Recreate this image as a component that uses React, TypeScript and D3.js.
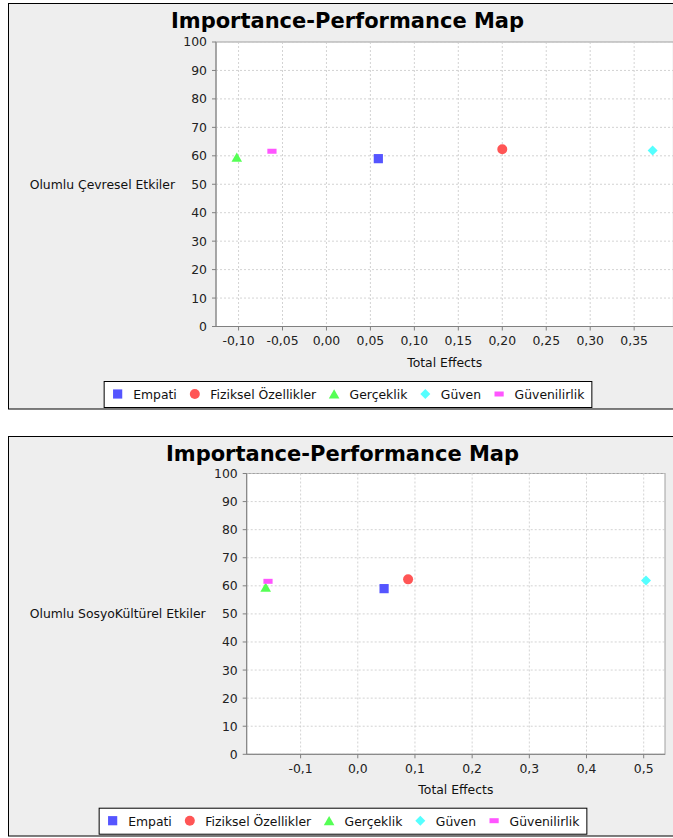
import React, { useRef, useEffect } from "react";
import * as d3 from "d3";

// constructs shown in both maps
const constructs = ["Empati", "Fiziksel Özellikler", "Gerçeklik", "Güven", "Güvenilirlik"];
const colors = ["#5555ff", "#ff5555", "#55ff55", "#55ffff", "#ff55ff"];
const shapes = ["square", "circle", "triangle", "diamond", "bar"];

// performance (y) and total effects (x)
const performance = [59.0, 62.3, 59.5, 61.9, 61.6];
const effectsCevresel = [0.059, 0.2, -0.102, 0.371, -0.062];
const effectsSosyo = [0.046, 0.088, -0.161, 0.504, -0.157];

const yTicks = [0, 10, 20, 30, 40, 50, 60, 70, 80, 90, 100];
const xTicksCevresel = [-0.1, -0.05, 0, 0.05, 0.1, 0.15, 0.2, 0.25, 0.3, 0.35];
const xTicksSosyo = [-0.1, 0, 0.1, 0.2, 0.3, 0.4, 0.5];

const FONT = "DejaVu Sans, Verdana, sans-serif";

interface ChartCfg {
  top: number;
  bottom: number;
  right: number;
  plot: { left: number; right: number; top: number; bottom: number };
  legendTop: number;
  yLabel: string;
  effects: number[];
  xTicks: number[];
  decimals: number;
}

const charts: ChartCfg[] = [
  {
    top: 3,
    bottom: 408.5,
    right: 687,
    plot: { left: 216, right: 673.4, top: 42, bottom: 326.5 },
    legendTop: 381,
    yLabel: "Olumlu Çevresel Etkiler",
    effects: effectsCevresel,
    xTicks: xTicksCevresel,
    decimals: 2,
  },
  {
    top: 436,
    bottom: 835.5,
    right: 677,
    plot: { left: 246.7, right: 665, top: 473.5, bottom: 754.3 },
    legendTop: 807.7,
    yLabel: "Olumlu SosyoKültürel Etkiler",
    effects: effectsSosyo,
    xTicks: xTicksSosyo,
    decimals: 1,
  },
];

function shapePath(kind: string, cx: number, cy: number): string {
  const p = d3.path();
  if (kind === "square") {
    p.rect(cx - 4.6, cy - 4.6, 9.2, 9.2);
  } else if (kind === "circle") {
    p.arc(cx, cy, 5, 0, Math.PI * 2);
  } else if (kind === "triangle") {
    p.moveTo(cx, cy - 4.8);
    p.lineTo(cx + 5.3, cy + 4.6);
    p.lineTo(cx - 5.3, cy + 4.6);
    p.closePath();
  } else if (kind === "diamond") {
    p.moveTo(cx, cy - 5);
    p.lineTo(cx + 5, cy);
    p.lineTo(cx, cy + 5);
    p.lineTo(cx - 5, cy);
    p.closePath();
  } else {
    p.rect(cx - 4.6, cy - 2.5, 9.2, 5);
  }
  return p.toString();
}

function drawChart(svg: d3.Selection<SVGSVGElement, unknown, null, undefined>, c: ChartCfg) {
  const g = svg.append("g");
  const centerX = (8 + c.right) / 2;

  // panel
  g.append("rect")
    .attr("x", 8.5)
    .attr("y", c.top + 0.5)
    .attr("width", c.right - 8.5)
    .attr("height", c.bottom - c.top)
    .attr("fill", "#eeeeee")
    .attr("stroke", "#000")
    .attr("stroke-width", 1);

  // title
  g.append("text")
    .attr("x", centerX)
    .attr("y", c.top + 25.3)
    .attr("text-anchor", "middle")
    .style("font-family", FONT)
    .style("font-weight", "bold")
    .style("font-size", "21px")
    .text("Importance-Performance Map");

  const ext = d3.extent(c.effects) as [number, number];
  const pad = (ext[1] - ext[0]) * 0.05;
  const x = d3.scaleLinear().domain([ext[0] - pad, ext[1] + pad]).range([c.plot.left, c.plot.right]);
  const y = d3.scaleLinear().domain([0, 100]).range([c.plot.bottom, c.plot.top]);

  // plot background
  g.append("rect")
    .attr("x", c.plot.left)
    .attr("y", c.plot.top)
    .attr("width", c.plot.right - c.plot.left)
    .attr("height", c.plot.bottom - c.plot.top)
    .attr("fill", "#fff")
    .attr("stroke", "#a0a0a0")
    .attr("stroke-width", 1);

  // grid
  g.append("g")
    .selectAll("line")
    .data(yTicks)
    .enter()
    .append("line")
    .attr("x1", c.plot.left)
    .attr("x2", c.plot.right)
    .attr("y1", (d) => y(d))
    .attr("y2", (d) => y(d))
    .attr("stroke", "#c8c8c8")
    .attr("stroke-width", 0.8)
    .attr("stroke-dasharray", "2,2");

  g.append("g")
    .selectAll("line")
    .data(c.xTicks)
    .enter()
    .append("line")
    .attr("x1", (d) => x(d))
    .attr("x2", (d) => x(d))
    .attr("y1", c.plot.top)
    .attr("y2", c.plot.bottom)
    .attr("stroke", "#c8c8c8")
    .attr("stroke-width", 0.8)
    .attr("stroke-dasharray", "2,2");

  // axis lines
  g.append("line")
    .attr("x1", c.plot.left)
    .attr("x2", c.plot.left)
    .attr("y1", c.plot.top)
    .attr("y2", c.plot.bottom)
    .attr("stroke", "#808080");
  g.append("line")
    .attr("x1", c.plot.left)
    .attr("x2", c.plot.right)
    .attr("y1", c.plot.bottom)
    .attr("y2", c.plot.bottom)
    .attr("stroke", "#808080");

  // y ticks
  const yt = g.append("g").selectAll("g").data(yTicks).enter().append("g");
  yt.append("line")
    .attr("x1", c.plot.left - 4)
    .attr("x2", c.plot.left)
    .attr("y1", (d) => y(d))
    .attr("y2", (d) => y(d))
    .attr("stroke", "#808080");
  yt.append("text")
    .attr("x", c.plot.left - 9)
    .attr("y", (d) => y(d))
    .attr("dy", "0.36em")
    .attr("text-anchor", "end")
    .style("font-family", FONT)
    .style("font-size", "12.4px")
    .attr("fill", "#222")
    .text((d) => String(d));

  // x ticks
  const fmt = (d: number) => d.toFixed(c.decimals).replace(".", ",");
  const xt = g.append("g").selectAll("g").data(c.xTicks).enter().append("g");
  xt.append("line")
    .attr("x1", (d) => x(d))
    .attr("x2", (d) => x(d))
    .attr("y1", c.plot.bottom)
    .attr("y2", c.plot.bottom + 4)
    .attr("stroke", "#808080");
  xt.append("text")
    .attr("x", (d) => x(d))
    .attr("y", c.plot.bottom + 18.5)
    .attr("text-anchor", "middle")
    .style("font-family", FONT)
    .style("font-size", "12.4px")
    .attr("fill", "#222")
    .text((d) => fmt(d));

  // axis labels
  g.append("text")
    .attr("x", (c.plot.left + c.plot.right) / 2)
    .attr("y", c.plot.bottom + 40)
    .attr("text-anchor", "middle")
    .style("font-family", FONT)
    .style("font-size", "12.4px")
    .attr("fill", "#111")
    .text("Total Effects");

  g.append("text")
    .attr("x", c.plot.left - 41)
    .attr("y", (c.plot.top + c.plot.bottom) / 2)
    .attr("dy", "0.36em")
    .attr("text-anchor", "end")
    .style("font-family", FONT)
    .style("font-size", "12.4px")
    .attr("fill", "#111")
    .text(c.yLabel);

  // points
  g.append("g")
    .selectAll("path")
    .data(constructs.map((name, i) => ({ name, i })))
    .enter()
    .append("path")
    .attr("d", (d) => shapePath(shapes[d.i], x(c.effects[d.i]), y(performance[d.i])))
    .attr("fill", (d) => colors[d.i]);

  // legend
  const lg = g.append("g");
  const box = lg.append("rect");
  const texts = constructs.map((name) =>
    lg
      .append("text")
      .attr("y", c.legendTop + 18)
      .style("font-family", FONT)
      .style("font-size", "12.4px")
      .attr("fill", "#111")
      .text(name)
  );
  const widths = texts.map((t) => (t.node() as SVGTextElement).getComputedTextLength());
  const first = 14, toText = 15.5, between = 18, padR = 7;
  const total = first + d3.sum(widths) + widths.length * toText + (widths.length - 1) * between + padR;
  const left = centerX - total / 2;
  let cursor = left;
  constructs.forEach((_, i) => {
    const cx = cursor + (i === 0 ? first : between);
    lg.append("path")
      .attr("d", shapePath(shapes[i], cx, c.legendTop + 13))
      .attr("fill", colors[i]);
    texts[i].attr("x", cx + toText);
    cursor = cx + toText + widths[i];
  });
  box
    .attr("x", left + 0.5)
    .attr("y", c.legendTop + 0.5)
    .attr("width", total)
    .attr("height", 26)
    .attr("fill", "#fff")
    .attr("stroke", "#000");
}

const App: React.FC = () => {
  const ref = useRef<SVGSVGElement>(null);

  useEffect(() => {
    const svg = d3.select(ref.current as SVGSVGElement);
    svg.selectAll("*").remove();
    charts.forEach((c) => drawChart(svg, c));
  }, []);

  return (
    <div
      style={{
        position: "absolute",
        left: 0,
        top: 0,
        width: 673,
        height: 838,
        overflow: "hidden",
        background: "#fff",
      }}
    >
      <svg ref={ref} width={673} height={838} style={{ display: "block" }} />
    </div>
  );
};

export default App;
